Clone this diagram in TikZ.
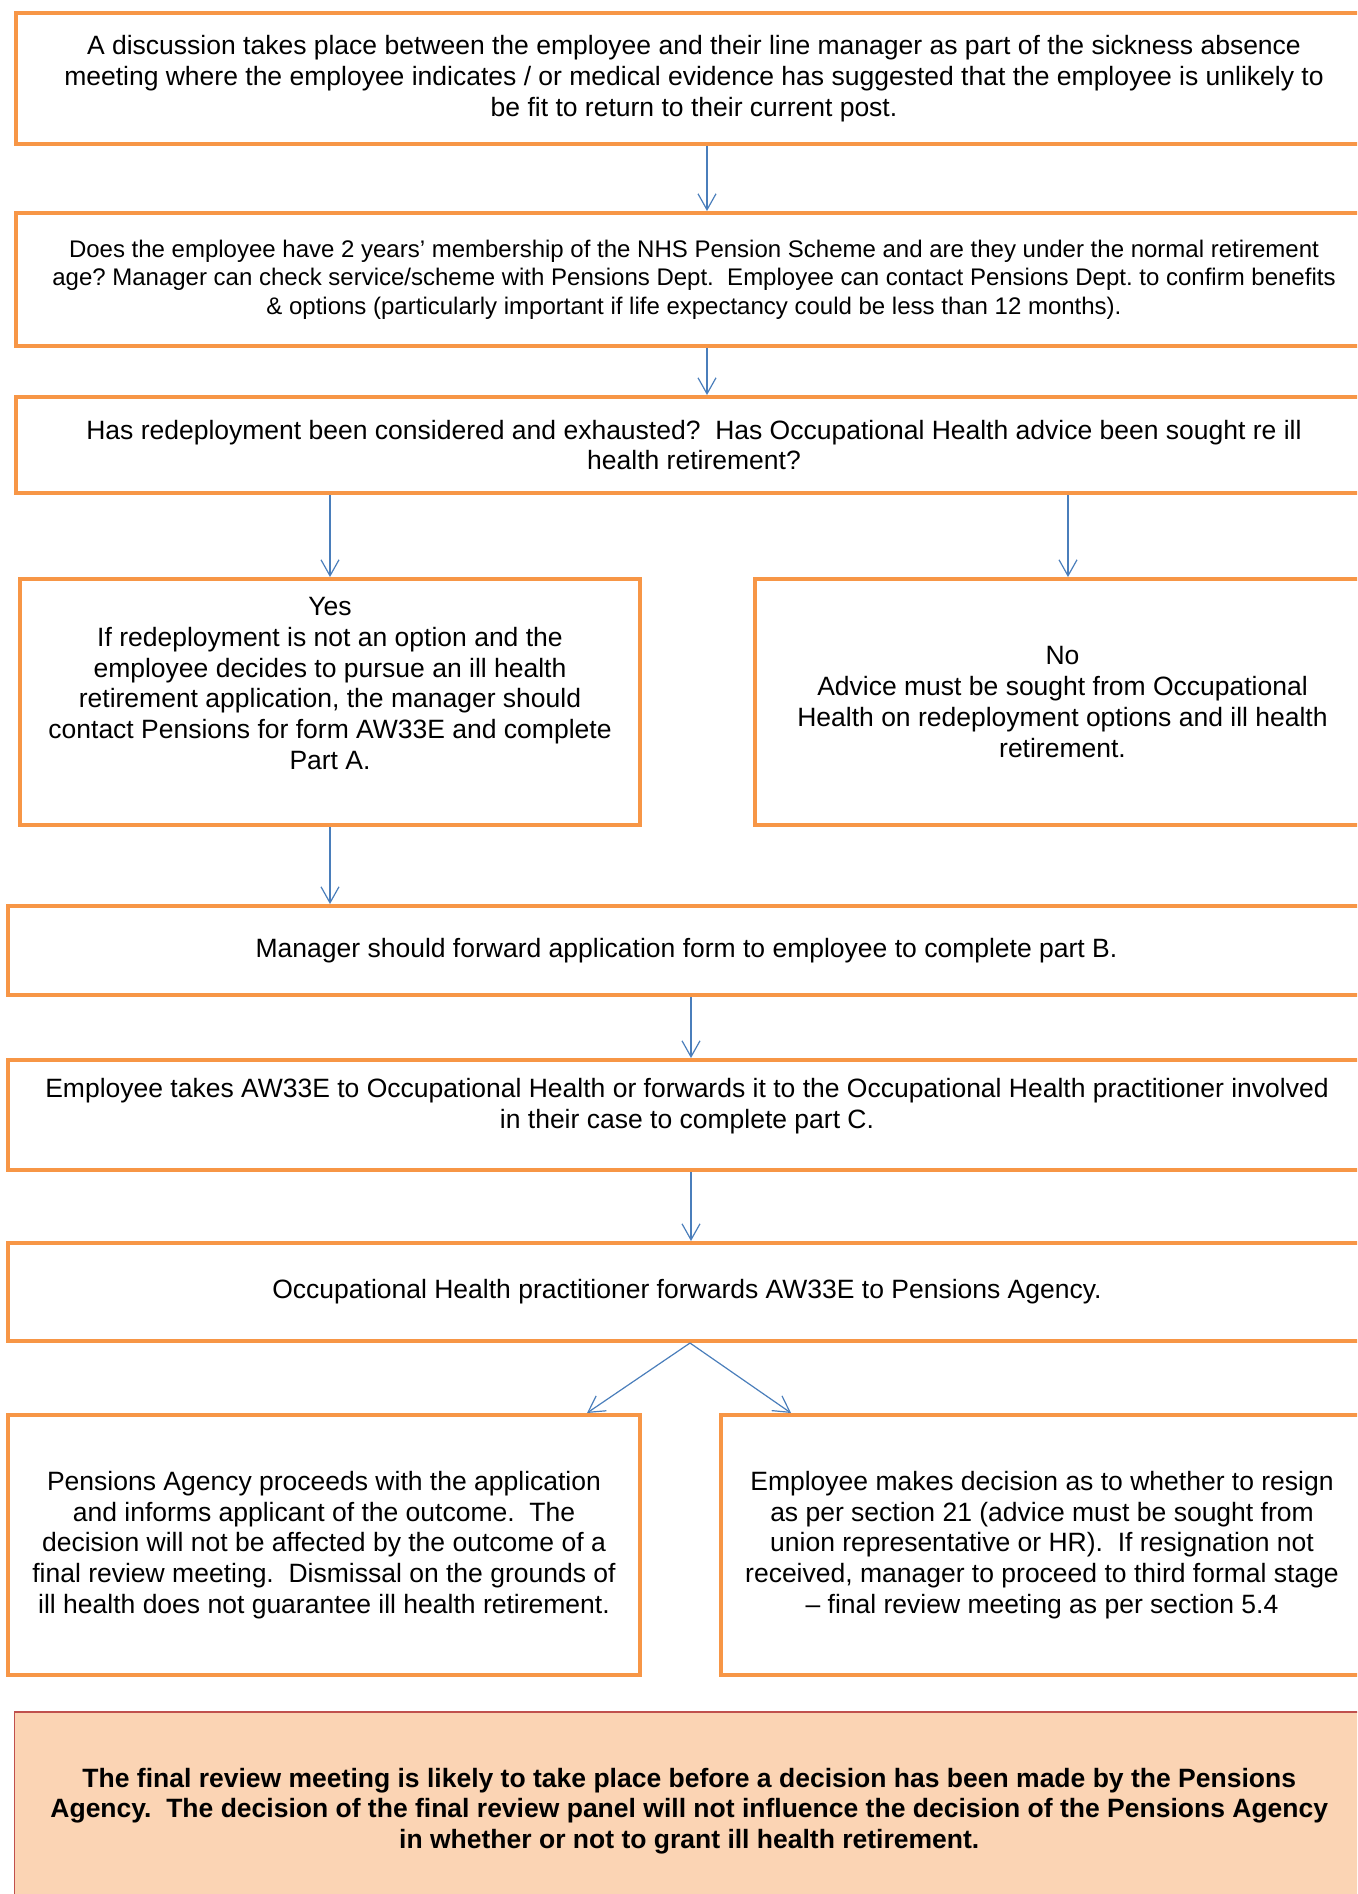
\documentclass[tikz,border=0pt]{standalone}
\usepackage{fontspec}
\setmainfont{Liberation Sans}
\usetikzlibrary{arrows.meta,calc}
\frenchspacing

\definecolor{boxorange}{HTML}{F79646}
\definecolor{arrowblue}{HTML}{4A7EBB}
\definecolor{noteedge}{HTML}{C0504D}
\definecolor{notefill}{HTML}{FBD4B4}

% text block held at the top of its box
\newcommand{\toptxt}[2]{\vbox to #1{\hbox{\begin{tabular}{@{}c@{}}#2\end{tabular}}\vfil}}

\tikzset{
  flowbox/.style={draw=boxorange, line width=2pt, rectangle, inner sep=0pt, align=center,
    font=\fontsize{13.25}{15.4}\selectfont},
  flowarrow/.style={draw=arrowblue, line width=0.6pt, -{Straight Barb[length=8pt,width=9pt]}},
  notebox/.style={draw=noteedge, line width=0.7pt, fill=notefill, rectangle, inner sep=0pt,
    align=center, font=\bfseries\fontsize{13.25}{15.4}\selectfont},
}

\begin{document}
\begin{tikzpicture}[x=0.5pt, y=-0.5pt]
	\useasboundingbox (0,0) rectangle (1357,1894);
	\clip (0,0) rectangle (1357,1894);
	\def\px{0.5pt} % one pixel of the page
	
	% top boxes, they run off the right edge
	\node[flowbox, minimum width=1356*\px, minimum height=131*\px] (disc) at (694,78.5)
	{A discussion takes place between the employee and their line manager as part of the sickness absence\\
	 meeting where the employee indicates / or medical evidence has suggested that the employee is unlikely to\\
	 be fit to return to their current post.};
	\node[flowbox, minimum width=1356*\px, minimum height=133*\px, font=\fontsize{12}{14.2}\selectfont] (member) at (694,279.5)
	{Does the employee have 2 years’ membership of the NHS Pension Scheme and are they under the normal retirement\\
	 age? Manager can check service/scheme with Pensions Dept.\ \ Employee can contact Pensions Dept. to confirm benefits\\
	 \& options (particularly important if life expectancy could be less than 12 months).};
	\node[flowbox, minimum width=1356*\px, minimum height=96*\px] (redeploy) at (694,445)
	{Has redeployment been considered and exhausted?\ \ Has Occupational Health advice been sought re ill\\
	 health retirement?};
	
	% yes / no
	\node[flowbox, minimum width=620*\px, minimum height=246*\px] (yes) at (330,702)
	{\toptxt{108pt}{Yes\\
	 If redeployment is not an option and the\\
	 employee decides to pursue an ill health\\
	 retirement application, the manager should\\
	 contact Pensions for form AW33E and complete\\
	 Part A.}};
	\node[flowbox, minimum width=615*\px, minimum height=246*\px] (no) at (1062.5,702)
	{No\\
	 Advice must be sought from Occupational\\
	 Health on redeployment options and ill health\\
	 retirement.};
	
	% application form
	\node[flowbox, minimum width=1357*\px, minimum height=89*\px] (fwd) at (686.5,950.5)
	{Manager should forward application form to employee to complete part B.};
	\node[flowbox, minimum width=1358*\px, minimum height=110*\px] (takes) at (687,1115)
	{\toptxt{38.8pt}{Employee takes AW33E to Occupational Health or forwards it to the Occupational Health practitioner involved\\
	 in their case to complete part C.}};
	\node[flowbox, minimum width=1358*\px, minimum height=98*\px] (ohfwd) at (687,1292)
	{Occupational Health practitioner forwards AW33E to Pensions Agency.};
	
	% outcome boxes
	\node[flowbox, minimum width=632*\px, minimum height=260*\px] (agency) at (324,1545)
	{Pensions Agency proceeds with the application\\
	 and informs applicant of the outcome.\ \ The\\
	 decision will not be affected by the outcome of a\\
	 final review meeting.\ \ Dismissal on the grounds of\\
	 ill health does not guarantee ill health retirement.};
	\node[flowbox, minimum width=642*\px, minimum height=260*\px] (resign) at (1042,1545)
	{Employee makes decision as to whether to resign\\
	 as per section 21 (advice must be sought from\\
	 union representative or HR).\ \ If resignation not\\
	 received, manager to proceed to third formal stage\\
	 – final review meeting as per section 5.4};
	
	% note at the bottom
	\node[notebox, minimum width=1349.5*\px, minimum height=198*\px] (final) at (689.25,1811)
	{The final review meeting is likely to take place before a decision has been made by the Pensions\\
	 Agency.\ \ The decision of the final review panel will not influence the decision of the Pensions Agency\\
	 in whether or not to grant ill health retirement.};
	
	% arrows
	\draw[flowarrow] ($(disc.south)+(13,0)$) -- ($(member.north)+(13,0)$);
	\draw[flowarrow] ($(member.south)+(13,0)$) -- ($(redeploy.north)+(13,0)$);
	\draw[flowarrow] (yes.north |- redeploy.south) -- (yes.north);
	\draw[flowarrow] ($(no.north |- redeploy.south)+(5.5,0)$) -- ($(no.north)+(5.5,0)$);
	\draw[flowarrow] (yes.south) -- (yes.south |- fwd.north);
	\draw[flowarrow] ($(fwd.south)+(4.5,0)$) -- ($(takes.north)+(4,0)$);
	\draw[flowarrow] ($(takes.south)+(4,0)$) -- ($(ohfwd.north)+(4,0)$);
	\draw[flowarrow] ($(ohfwd.south)+(3,0)$) -- ($(agency.north east)+(-55,0)$);
	\draw[flowarrow] ($(ohfwd.south)+(3,0)$) -- ($(resign.north west)+(72,0)$);
\end{tikzpicture}
\end{document}
